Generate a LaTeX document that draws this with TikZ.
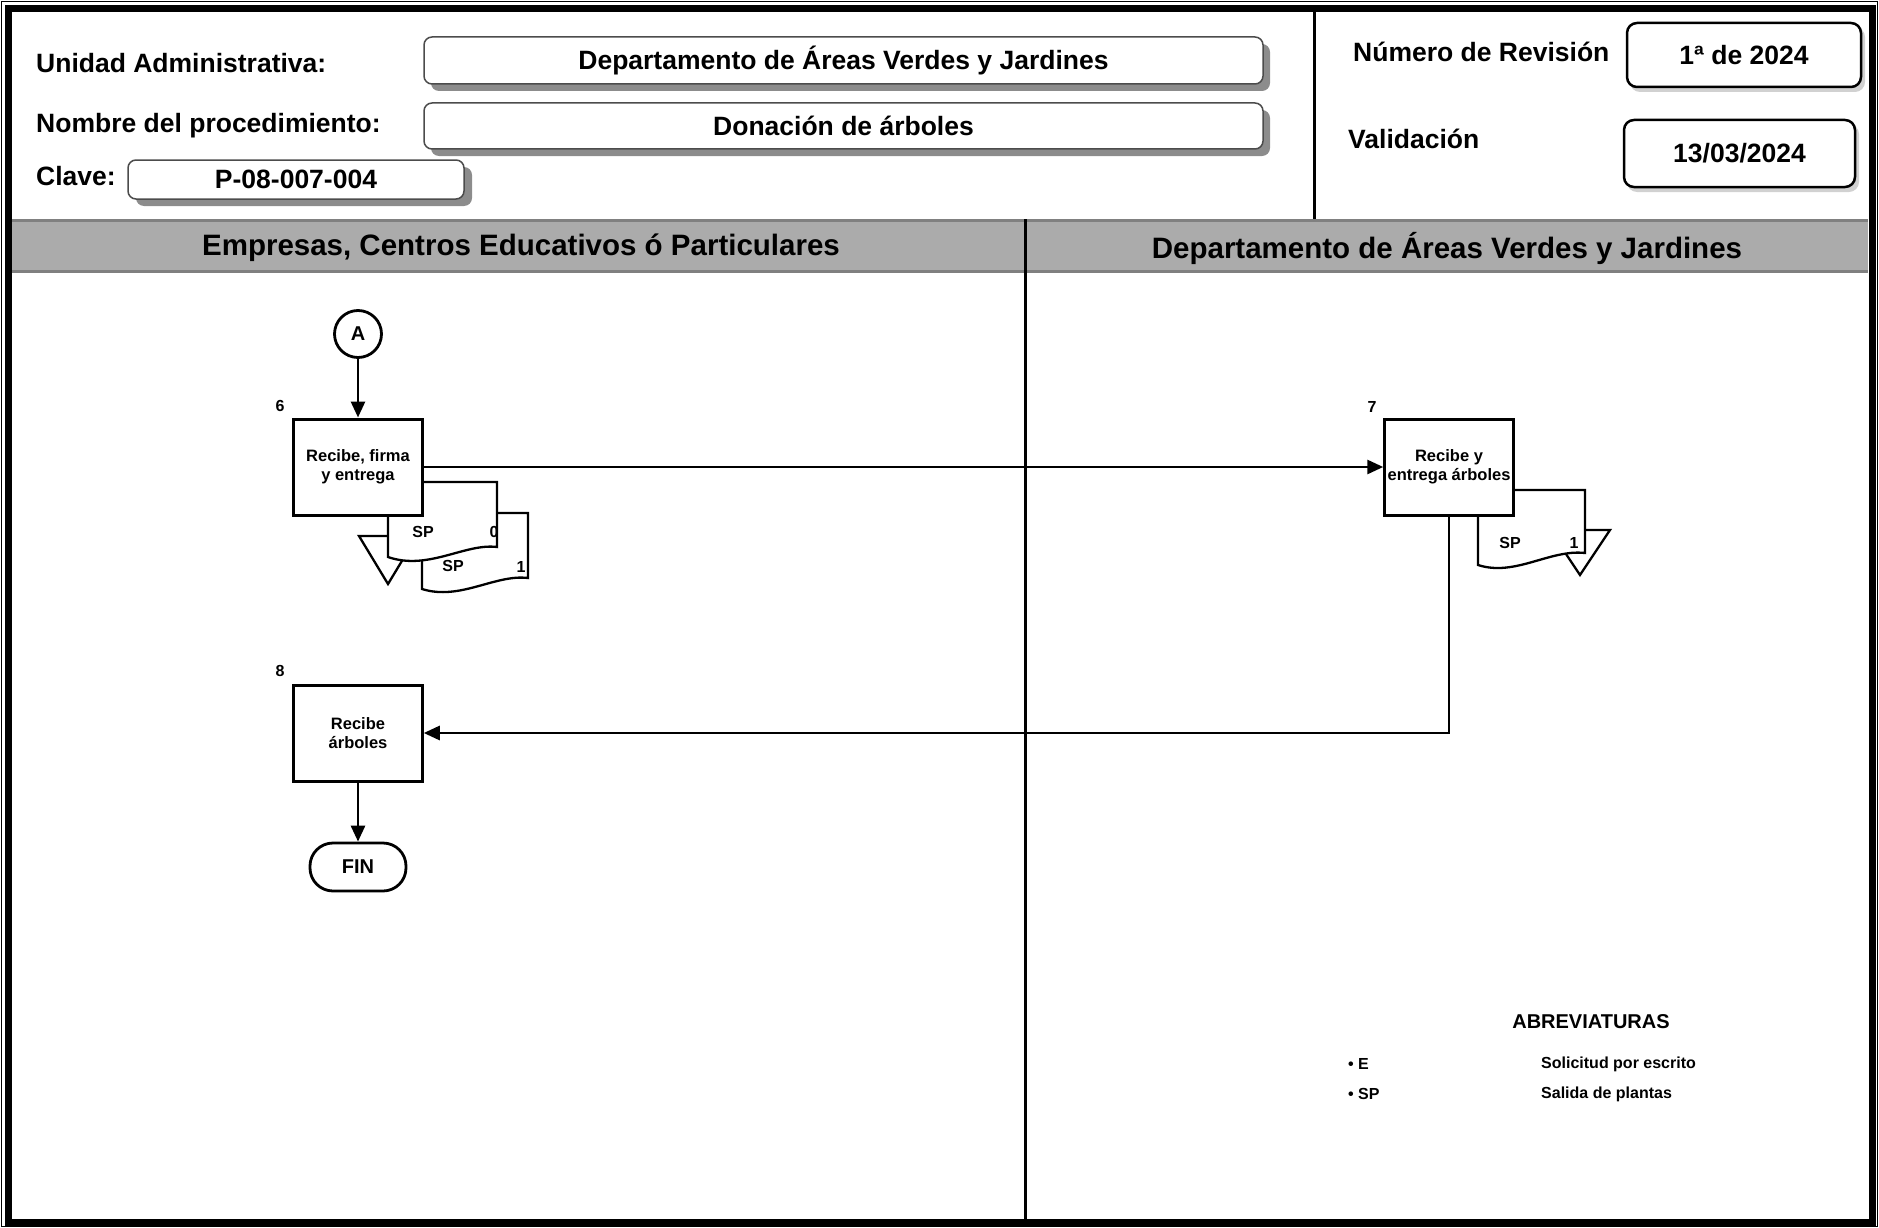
\documentclass[tikz,border=0pt]{standalone}
\usepackage{fontspec}
\setmainfont{Liberation Sans}
\usetikzlibrary{arrows.meta}
\newcommand{\myfs}[2]{\fontsize{#1}{#2}\selectfont\bfseries}
\definecolor{bandgray}{gray}{0.67}
\definecolor{bandedge}{gray}{0.5}
\definecolor{shadegray}{gray}{0.55}
\definecolor{softshade}{gray}{0.82}

\begin{document}
\begin{tikzpicture}[x=1pt,y=-1pt,
  flow/.style={line width=2.8pt, -{Triangle[length=16pt,width=14pt]}},
  stepbox/.style={draw, line width=3pt, fill=white, minimum width=128.5pt,
    minimum height=96pt, inner sep=0pt, align=center, font=\myfs{16.5}{19}},
  docshape/.style={draw, line width=2.3pt, fill=white, line join=miter},
  hdrbox/.style={draw=black!70, line width=1.5pt, fill=white, rounded corners=8pt,
    inner sep=0pt, font=\myfs{26.5}{30}},
  revbox/.style={draw, line width=2.5pt, fill=white, rounded corners=10pt,
    inner sep=0pt, font=\myfs{26.5}{30}},
  hdrlabel/.style={anchor=west, inner sep=0pt, font=\myfs{26.5}{30}},
  lanetitle/.style={inner sep=0pt, font=\myfs{29.5}{33}},
  doclabel/.style={inner sep=0pt, font=\myfs{16}{18}},
  stepnum/.style={inner sep=0pt, font=\myfs{16}{18}},
  abbr/.style={anchor=west, inner sep=0pt, font=\myfs{16}{18}}
]
\useasboundingbox (0,0) rectangle (1879,1228);

% outer frame
\draw[line width=1.5pt] (1.5,1.5) rectangle (1877.5,1226.5);
\draw[line width=7pt] (8,9) rectangle (1872.5,1222.5);

% header separator
\draw[line width=3pt] (1314.5,12.5) -- (1314.5,220);

% header fields with shadows
\fill[shadegray, rounded corners=8pt] (431,44) rectangle (1270,91);
\node[hdrbox, minimum width=839pt, minimum height=47pt] (unidad) at (843.5,60.5)
  {Departamento de Áreas Verdes y Jardines};
\fill[shadegray, rounded corners=8pt] (431,110) rectangle (1270,156);
\node[hdrbox, minimum width=839pt, minimum height=46pt] (proc) at (843.5,126)
  {Donación de árboles};
\fill[shadegray, rounded corners=8pt] (136,167) rectangle (472,206);
\node[hdrbox, minimum width=336pt, minimum height=39pt] (clave) at (296,179.5)
  {P-08-007-004};

\node[hdrlabel] (lunidad) at (36,63) {Unidad Administrativa:};
\node[hdrlabel] (lproc) at (36,126) {Nombre del procedimiento:};
\node[hdrlabel] (lclave) at (36,176) {Clave:};

% revision block
\fill[softshade, rounded corners=10pt] (1630,27) rectangle (1865,92);
\node[revbox, minimum width=234pt, minimum height=64pt] (rev) at (1744,55) {1ª de 2024};
\fill[softshade, rounded corners=10pt] (1627,124) rectangle (1859,192);
\node[revbox, minimum width=231pt, minimum height=67pt] (val) at (1739.5,153.5) {13/03/2024};
\node[hdrlabel] (lrev) at (1353,52) {Número de Revisión};
\node[hdrlabel] (lval) at (1348,139) {Validación};

% lane header band
\fill[bandgray] (12,220) rectangle (1868,272);
\draw[bandedge, line width=3pt] (12,220.5) -- (1868,220.5);
\draw[bandedge, line width=3pt] (12,271.5) -- (1868,271.5);
\node[lanetitle] (lane1) at (521,248) {Empresas, Centros Educativos ó Particulares};
\node[lanetitle] (lane2) at (1447,248) {Departamento de Áreas Verdes y Jardines};

% lane divider
\draw[line width=3pt] (1025.5,219) -- (1025.5,1219);

% documents of step 6
\draw[docshape] (359,536) -- (417,536) -- (388,584) -- cycle;
\draw[docshape] (422,513) -- (528,513) -- (528,578)
  .. controls (495,574) and (460,601) .. (422,589) -- cycle;
\draw[docshape] (388,482) -- (497,482) -- (497,547)
  .. controls (465,543) and (428,571) .. (388,557) -- cycle;
\node[doclabel] (sp6a) at (423,532) {SP};
\node[doclabel] (n6a) at (494,532) {0};
\node[doclabel] (sp6b) at (453,566) {SP};
\node[doclabel] (n6b) at (521,567) {1};

% documents of step 7
\draw[docshape] (1550,530) -- (1610,530) -- (1580,575) -- cycle;
\draw[docshape] (1478,490) -- (1585,490) -- (1585,553)
  .. controls (1550,549) and (1515,577) .. (1478,565) -- cycle;
\node[doclabel] (sp7) at (1510,543) {SP};
\node[doclabel] (n7) at (1574,543) {1};

% flow nodes
\node[draw, circle, line width=2.8pt, minimum size=47pt, inner sep=0pt, fill=white,
  font=\myfs{20}{22}] (A) at (358,334) {A};
\node[stepbox] (b6) at (358,467) {Recibe, firma\\y entrega};
\node[stepbox] (b7) at (1449,467) {Recibe y\\entrega árboles};
\node[stepbox] (b8) at (358,733) {Recibe\\árboles};
\node[draw, line width=2.8pt, rounded corners=23pt, minimum width=96pt,
  minimum height=48pt, inner sep=0pt, fill=white, font=\myfs{20}{22}] (fin) at (358,867) {FIN};

\node[stepnum] (s6) at (280,406) {6};
\node[stepnum] (s7) at (1372,407) {7};
\node[stepnum] (s8) at (280,671) {8};

% connectors
\draw[flow] (A) -- (b6);
\draw[flow] (b6.east) -- (b7.west);
\draw[flow] (b7.south) |- (b8.east);
\draw[flow] (b8) -- (fin);

% abbreviations
\node[inner sep=0pt, font=\myfs{20}{22}] (abrev) at (1591,1022) {ABREVIATURAS};
\node[abbr] (kE) at (1348,1064) {• E};
\node[abbr] (kSP) at (1348,1094) {• SP};
\node[abbr] (vE) at (1541,1064) {Solicitud por escrito};
\node[abbr] (vSP) at (1541,1094) {Salida de plantas};
\end{tikzpicture}
\end{document}
